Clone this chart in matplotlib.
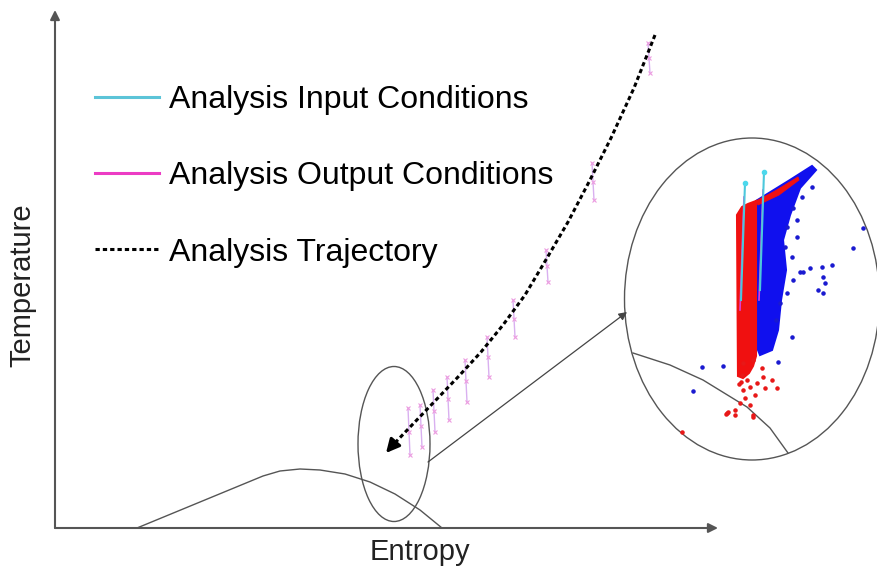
import numpy as np
import matplotlib.pyplot as plt
from matplotlib.patches import Ellipse, Polygon

plt.rcParams['font.family'] = ['Liberation Sans', 'DejaVu Sans']

# schematic T-s diagram, units: entropy s (right), temperature T (up)
# analysis trajectory (drawn from high T down to the arrow tip)
traj_s = [600, 579, 556, 535, 513, 492, 470, 448, 426, 403, 380, 357, 337]
traj_T = [493, 440, 390, 348, 306, 270, 233, 203, 176, 151, 127, 103, 82]
traj_tip = (331, 75)

# saturation dome
dome_s = [82, 145, 208, 225, 245, 265, 290, 315, 340, 365, 387]
dome_T = [0, 26, 52, 57, 59, 58, 54, 46, 34, 18, 0]

# spread of analysis conditions along the trajectory (s, T top, T bottom)
cond_s = [353, 365, 378, 392, 410, 432, 458, 491, 537, 593]
cond_top = [120, 123, 138, 151, 168, 191, 228, 278, 365, 485]
cond_bot = [73, 81, 96, 108, 126, 151, 191, 246, 328, 455]

# zoomed view: dome edge, input (cyan) and output (magenta) traces
zoom_dome_s = [578, 615, 648, 692, 715, 733]
zoom_dome_T = [175, 163, 148, 121, 100, 75]
input_s = [[690, 686], [709, 705]]
input_T = [[345, 228], [356, 238]]
output_s = [[689, 685], [708, 704]]
output_T = [[331, 218], [338, 228]]

# dense clouds of points in the zoomed view (outlines)
red_cloud = [(682, 313), (687, 321), (693, 324), (701, 327), (701, 172),
             (698, 162), (694, 155), (688, 150), (683, 152)]
red_ridge = [(701, 327), (720, 337), (743, 351), (744, 348), (724, 333), (703, 323)]
blue_cloud = [(701, 327), (735, 348), (757, 362), (761, 358), (745, 340),
              (735, 313), (728, 288), (731, 258), (726, 228), (723, 198),
              (717, 178), (705, 173), (701, 183)]

red_s = [688, 698, 707, 708, 717, 722, 702, 695, 710, 688, 700, 685, 695, 673,
         680, 671, 698, 687, 692, 672, 680, 698, 627, 684, 690, 686]
red_T = [165, 168, 160, 151, 148, 140, 145, 141, 140, 138, 133, 125, 123, 116,
         113, 114, 111, 153, 148, 115, 118, 113, 96, 144, 130, 146]
blue_s = [808, 798, 777, 767, 755, 748, 768, 770, 763, 768, 737, 737, 647, 668,
          638, 745, 738, 732, 757, 747, 738, 742, 732, 742, 730, 723, 725, 721]
blue_T = [300, 280, 263, 261, 260, 256, 251, 245, 238, 235, 271, 191, 161, 162,
          137, 256, 248, 235, 341, 331, 320, 308, 301, 291, 281, 166, 225, 208]

fig = plt.figure(figsize=(8.77, 5.78), dpi=100)
ax = fig.add_axes([0, 0, 1, 1])
ax.set_xlim(-55, 822)
ax.set_ylim(-50, 528)
ax.set_axis_off()

# axes with arrow heads
axis_kw = dict(arrowstyle='-|>', color='#555555', lw=1.5, mutation_scale=14,
               shrinkA=0, shrinkB=0)
ax.annotate('', xy=(0, 518), xytext=(0, 0), arrowprops=axis_kw)
ax.annotate('', xy=(663, 0), xytext=(0, 0), arrowprops=axis_kw)

ax.plot(dome_s, dome_T, color='#555555', lw=1)

# circled region and zoomed view
ax.add_patch(Ellipse((339, 84), 72, 155, fill=False, ec='#555555', lw=1))
ax.add_patch(Ellipse((697, 229), 255, 322, fill=False, ec='#555555', lw=1))
ax.annotate('', xy=(572, 216), xytext=(373, 66),
            arrowprops=dict(arrowstyle='-|>', color='#444444', lw=0.9,
                            mutation_scale=12, shrinkA=0, shrinkB=0))
ax.plot(zoom_dome_s, zoom_dome_T, color='#555555', lw=1)

# conditions spread along trajectory
for s, top, bot in zip(cond_s, cond_top, cond_bot):
    ax.plot([s, s + 2], [top, bot], color='#d9b0f0', lw=1, zorder=2)
    ax.plot([s, s + 1, s + 2], [top, (top + bot) / 2, bot], ls='none',
            marker='x', ms=3.5, mew=0.8, color='#ec9ce0', zorder=2)

traj_line, = ax.plot(traj_s, traj_T, color='black', lw=2.2,
                     ls=(0, (1.4, 1.0)), zorder=3, label='Analysis Trajectory')
ax.annotate('', xy=traj_tip, xytext=(traj_s[-1], traj_T[-1]),
            arrowprops=dict(arrowstyle='-|>', color='black', lw=2.2,
                            mutation_scale=20, shrinkA=0, shrinkB=0), zorder=3)

# zoomed point clouds
ax.add_patch(Polygon(blue_cloud, closed=True, fc='#1010ee', ec='#1010ee', lw=1.5))
ax.add_patch(Polygon(red_cloud, closed=True, fc='#f01010', ec='#f01010', lw=1.5))
ax.add_patch(Polygon(red_ridge, closed=True, fc='#f01010', ec='#f01010', lw=0.6))
ax.scatter(blue_s, blue_T, s=5, color='#1a1ad0', zorder=3)
ax.scatter(red_s, red_T, s=5, color='#e81818', zorder=3)

for k, (xs, ys) in enumerate(zip(output_s, output_T)):
    ax.plot(xs, ys, color='#e040d0', lw=1.2, zorder=4,
            label='Analysis Output Conditions' if k == 0 else None)
for k, (xs, ys) in enumerate(zip(input_s, input_T)):
    ax.plot(xs, ys, color='#4cc8dc', lw=1.5, zorder=5,
            label='Analysis Input Conditions' if k == 0 else None)
    ax.plot(xs[0], ys[0], 'o', ms=3, color='#4cd8ec', zorder=5)

handles, labels = ax.get_legend_handles_labels()
order = [labels.index('Analysis Input Conditions'),
         labels.index('Analysis Output Conditions'),
         labels.index('Analysis Trajectory')]
leg = ax.legend([handles[i] for i in order], [labels[i] for i in order],
                loc='upper left', bbox_to_anchor=(95 / 877, 1 - 85 / 578),
                frameon=False, fontsize=23, borderpad=0, borderaxespad=0,
                handlelength=2.0, handletextpad=0.33, labelspacing=1.45)
for h in leg.legend_handles[:2]:
    h.set_linewidth(2.2)
leg.legend_handles[0].set_color('#5cc4d8')
leg.legend_handles[1].set_color('#ec3cc4')

ax.text(-33, 243, 'Temperature', rotation=90, fontsize=21,
        ha='center', va='center', color='#222222')
ax.text(365, -24, 'Entropy', fontsize=21, ha='center', va='center',
        color='#222222')

fig.savefig('out.png', dpi=100)
